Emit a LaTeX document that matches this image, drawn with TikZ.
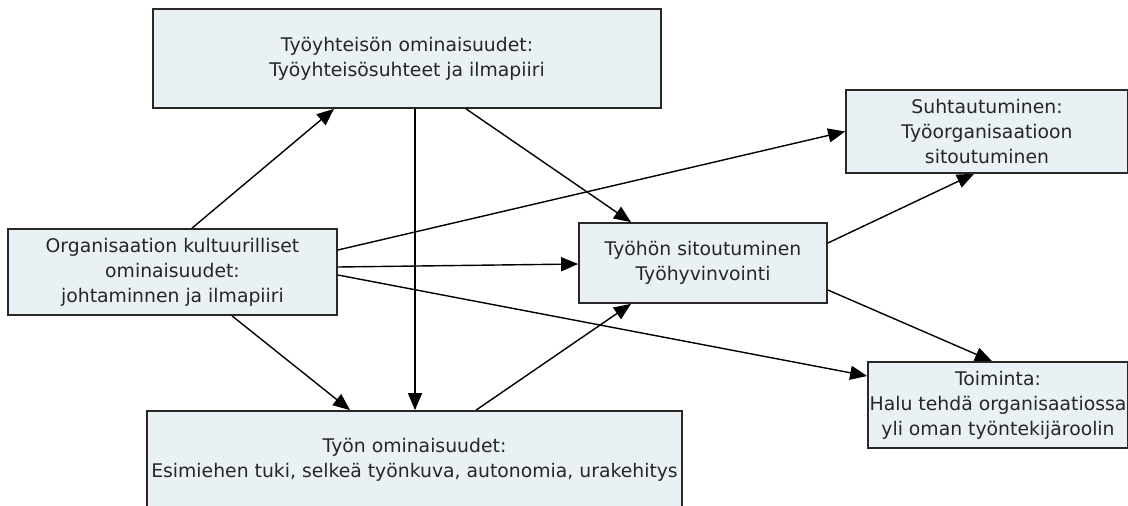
\documentclass[tikz,border=0pt]{standalone}
\usepackage{fontspec}
\setmainfont{DejaVu Sans}
\usepackage{xcolor}
\usetikzlibrary{arrows.meta}
\definecolor{boxfill}{RGB}{234,241,244}
\definecolor{boxline}{RGB}{40,40,40}

\begin{document}
\begin{tikzpicture}[x=1pt, y=-1pt,
    box/.style={draw=boxline, line width=1.7pt, fill=boxfill, rectangle, align=center, inner sep=1pt,
        font=\fontsize{18.8pt}{25pt}\selectfont, text=black!85},
    link/.style={line width=1.4pt, -{Triangle[length=17pt,width=14pt]}}]
    \useasboundingbox (0,0) rectangle (1128,506);
    \node[box, minimum width=508pt, minimum height=99pt] (yhteiso) at (407,58.5) {
        Työyhteisön ominaisuudet:\\
        Työyhteisösuhteet ja ilmapiiri
    };
    \node[box, minimum width=329pt, minimum height=86pt] (org) at (172.5,272) {
        Organisaation kultuurilliset\\
        ominaisuudet:\\
        johtaminnen ja ilmapiiri
    };
    \node[box, minimum width=248pt, minimum height=80pt] (tyohon) at (703,263) {
        Työhön sitoutuminen\\
        Työhyvinvointi
    };
    \node[box, minimum width=282pt, minimum height=83pt] (suht) at (987,131.5) {
        Suhtautuminen:\\
        Työorganisaatioon\\
        sitoutuminen
    };
    \node[box, minimum width=260pt, minimum height=86pt] (toiminta) at (998,405) {
        Toiminta:\\
        Halu tehdä organisaatiossa\\
        yli oman työntekijäroolin
    };
    \node[box, minimum width=535pt, minimum height=97pt] (tyon) at (414.5,459.5) {
        Työn ominaisuudet:\\
        Esimiehen tuki, selkeä työnkuva, autonomia, urakehitys
    };

    \draw[link] ([xshift=19.5pt]org.north) -- ([xshift=-73pt]yhteiso.south);
    \draw[link] ([xshift=8pt]yhteiso.south) -- ([xshift=8pt]yhteiso.south |- tyon.north);
    \draw[link] ([xshift=59pt]yhteiso.south) -- ([xshift=-72pt]tyohon.north);
    \draw[link] ([yshift=22pt]org.east) -- (suht.west);
    \draw[link] ([yshift=5pt]org.east) -- ([yshift=-1pt]tyohon.west);
    \draw[link] ([yshift=-3pt]org.east) -- ([yshift=29pt]toiminta.west);
    \draw[link] ([xshift=59.5pt]org.south) -- ([xshift=-64.5pt]tyon.north);
    \draw[link] ([xshift=61.5pt]tyon.north) -- ([xshift=-72pt]tyohon.south);
    \draw[link] ([yshift=20pt]tyohon.east) -- ([xshift=-13pt]suht.south);
    \draw[link] ([yshift=-27pt]tyohon.east) -- ([xshift=-6pt]toiminta.north);
\end{tikzpicture}
\end{document}
